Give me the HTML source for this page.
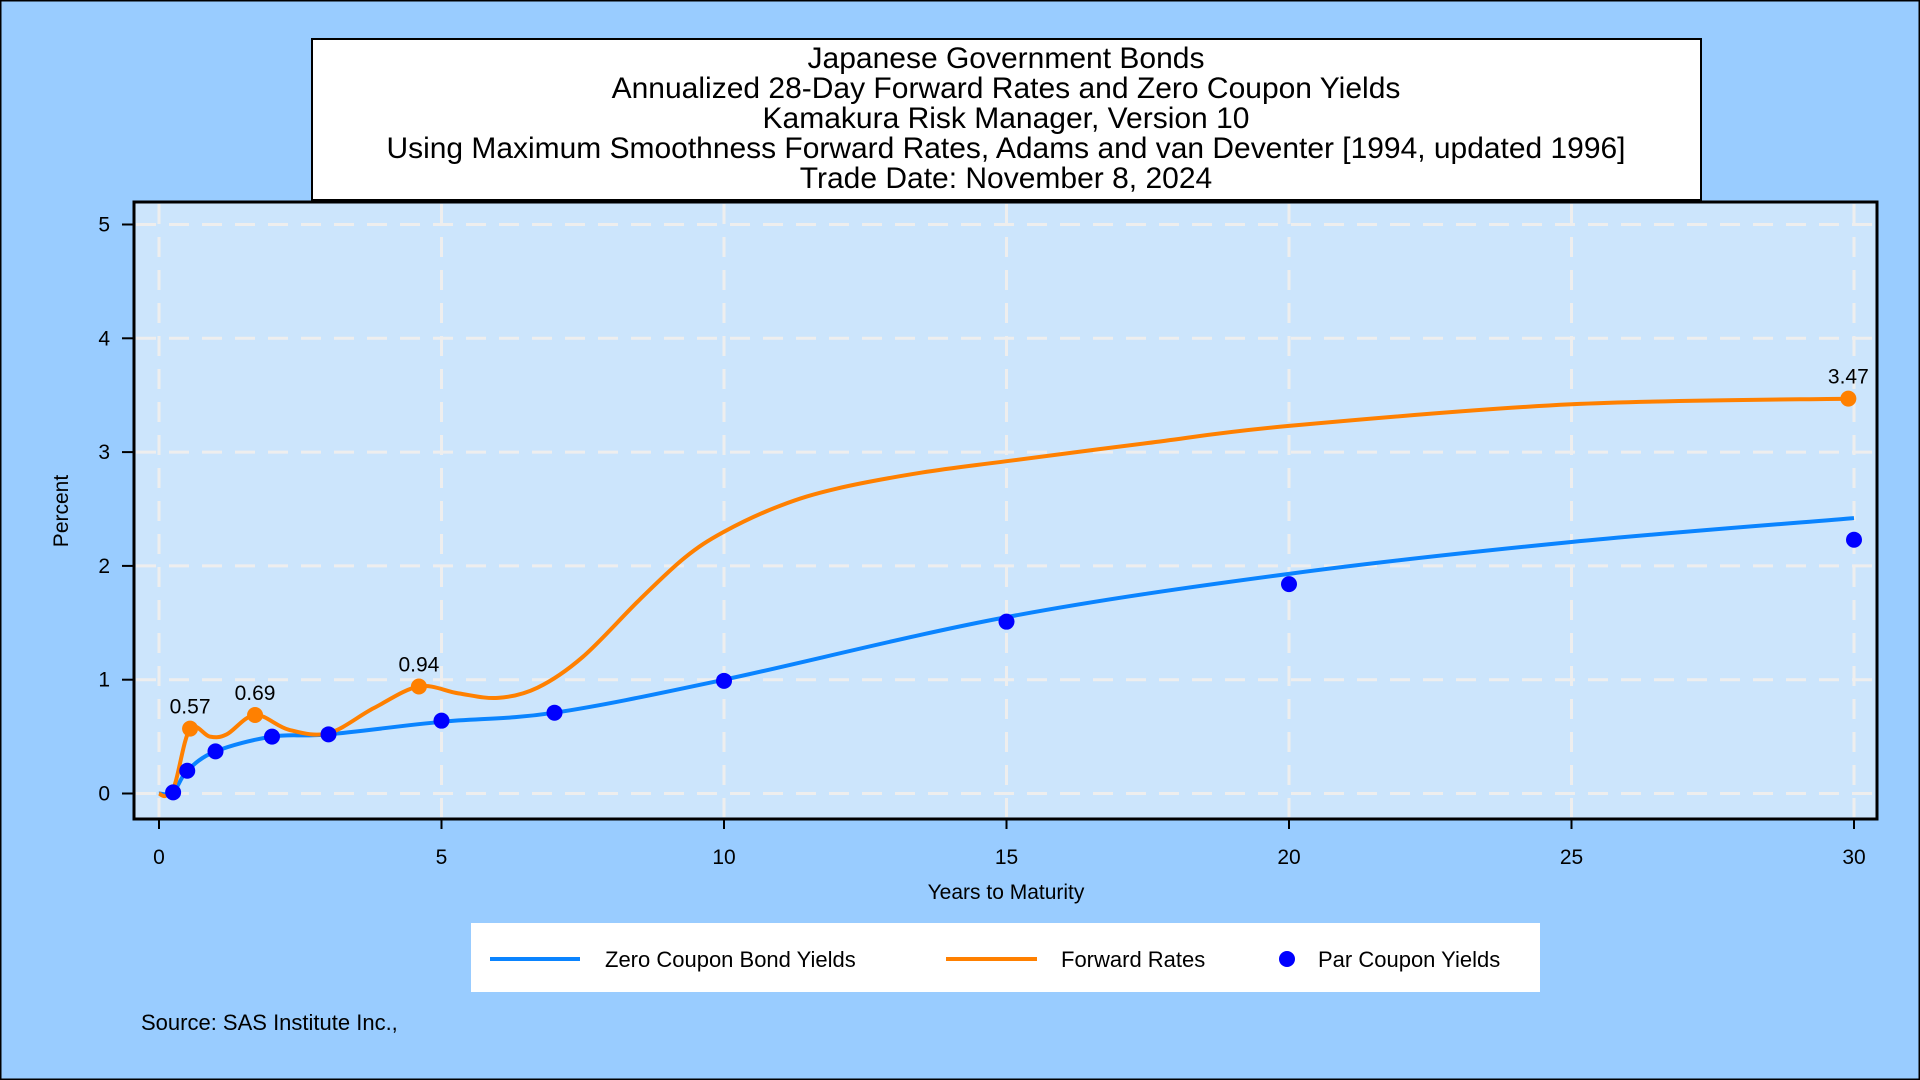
<!DOCTYPE html>
<html><head><meta charset="utf-8"><style>
html,body{margin:0;padding:0;background:#99ccff;}
svg{display:block;font-family:"Liberation Sans",Arial,sans-serif;}
</style></head><body>
<svg id="s" width="1920" height="1080" viewBox="0 0 1920 1080" xmlns="http://www.w3.org/2000/svg">
<rect x="0.5" y="0.5" width="1919" height="1079" fill="#99ccff" stroke="#000" stroke-width="2"/>
<rect x="312" y="39" width="1389" height="161" fill="#fff" stroke="#000" stroke-width="2"/>
<g font-size="30" text-anchor="middle" fill="#000">
<text x="1006" y="68">Japanese Government Bonds</text>
<text x="1006" y="98">Annualized 28-Day Forward Rates and Zero Coupon Yields</text>
<text x="1006" y="128">Kamakura Risk Manager, Version 10</text>
<text x="1006" y="158" textLength="1239" lengthAdjust="spacingAndGlyphs">Using Maximum Smoothness Forward Rates, Adams and van Deventer [1994, updated 1996]</text>
<text x="1006" y="188">Trade Date: November 8, 2024</text>
</g>
<rect x="134" y="202" width="1743" height="617" fill="#cce5fc" stroke="#000" stroke-width="3"/>
<g id="grid" stroke="#eeeeee" stroke-width="3" stroke-dasharray="20,13"></g>
<g id="ticks" stroke="#000" stroke-width="2"></g>
<g id="labs" font-size="21" fill="#000"></g>
<text x="1006" y="899" font-size="21" text-anchor="middle">Years to Maturity</text>
<text transform="translate(68,511) rotate(-90)" font-size="21" text-anchor="middle">Percent</text>
<path id="zero" fill="none" stroke="#0a84ff" stroke-width="4"/>
<path id="fwd" fill="none" stroke="#ff8000" stroke-width="4"/>
<g id="pts"></g>
<rect x="471" y="923" width="1069" height="69" fill="#fff"/>
<line x1="490" y1="959" x2="580" y2="959" stroke="#0a84ff" stroke-width="4"/>
<text x="605" y="967" font-size="22">Zero Coupon Bond Yields</text>
<line x1="946" y1="959" x2="1037" y2="959" stroke="#ff8000" stroke-width="4"/>
<text x="1061" y="967" font-size="22">Forward Rates</text>
<circle cx="1287" cy="959" r="8" fill="#0000ff"/>
<text x="1318" y="967" font-size="22">Par Coupon Yields</text>
<text x="141" y="1030" font-size="22">Source: SAS Institute Inc.,</text>
</svg>
<script>
var NS="http://www.w3.org/2000/svg";
function X(t){return 159+56.5*t;} function Y(v){return 793.5-113.8*v;}
function el(p,n,a,txt){var e=document.createElementNS(NS,n);for(var k in a)e.setAttribute(k,a[k]);if(txt!=null)e.textContent=txt;document.getElementById(p).appendChild(e);return e;}
for(var t=0;t<=30;t+=5){el("grid","line",{x1:X(t),y1:204,x2:X(t),y2:817});el("ticks","line",{x1:X(t),y1:819,x2:X(t),y2:829});el("labs","text",{x:X(t),y:864,"text-anchor":"middle"},t);}
for(var v=0;v<=5;v++){el("grid","line",{x1:136,y1:Y(v),x2:1875,y2:Y(v)});el("ticks","line",{x1:122,y1:Y(v),x2:134,y2:Y(v)});el("labs","text",{x:110,y:Y(v)+7,"text-anchor":"end"},v);}
function path(d){var p=d.map(function(a){return [X(a[0]),Y(a[1])];});var s="M"+p[0][0]+","+p[0][1];
for(var i=0;i<p.length-1;i++){var p0=p[i-1]||p[i],p1=p[i],p2=p[i+1],p3=p[i+2]||p2;
s+=" C"+(p1[0]+(p2[0]-p0[0])/6)+","+(p1[1]+(p2[1]-p0[1])/6)+" "+(p2[0]-(p3[0]-p1[0])/6)+","+(p2[1]-(p3[1]-p1[1])/6)+" "+p2[0]+","+p2[1];}return s;}
document.getElementById("zero").setAttribute("d",path([[0,0],[0.25,0.01],[0.5,0.2],[1,0.37],[2,0.5],[3,0.52],[5,0.63],[7,0.71],[10,1.0],[15,1.55],[20,1.93],[25,2.21],[30,2.42]]));
document.getElementById("fwd").setAttribute("d",path([[0,0],[0.12,-0.02],[0.28,0.08],[0.55,0.57],[0.9,0.5],[1.2,0.52],[1.7,0.69],[2.3,0.56],[3,0.53],[3.8,0.75],[4.6,0.94],[5.3,0.88],[6,0.84],[6.7,0.93],[7.5,1.2],[8.5,1.7],[9.3,2.07],[10,2.3],[11,2.53],[12,2.68],[13.5,2.82],[15,2.92],[17.5,3.08],[20,3.23],[25,3.42],[30,3.47]]));
[[0.25,0.01],[0.5,0.2],[1,0.37],[2,0.5],[3,0.52],[5,0.64],[7,0.71],[10,0.99],[15,1.51],[20,1.84],[30,2.23]].forEach(function(a){el("pts","circle",{cx:X(a[0]),cy:Y(a[1]),r:8,fill:"#0000ff"});});
[[0.55,0.57,"0.57"],[1.7,0.69,"0.69"],[4.6,0.94,"0.94"],[29.9,3.47,"3.47"]].forEach(function(a){el("pts","circle",{cx:X(a[0]),cy:Y(a[1]),r:8,fill:"#ff8000"});el("pts","text",{x:X(a[0]),y:Y(a[1])-15,"text-anchor":"middle","font-size":"21"},a[2]);});
</script>
</body></html>
